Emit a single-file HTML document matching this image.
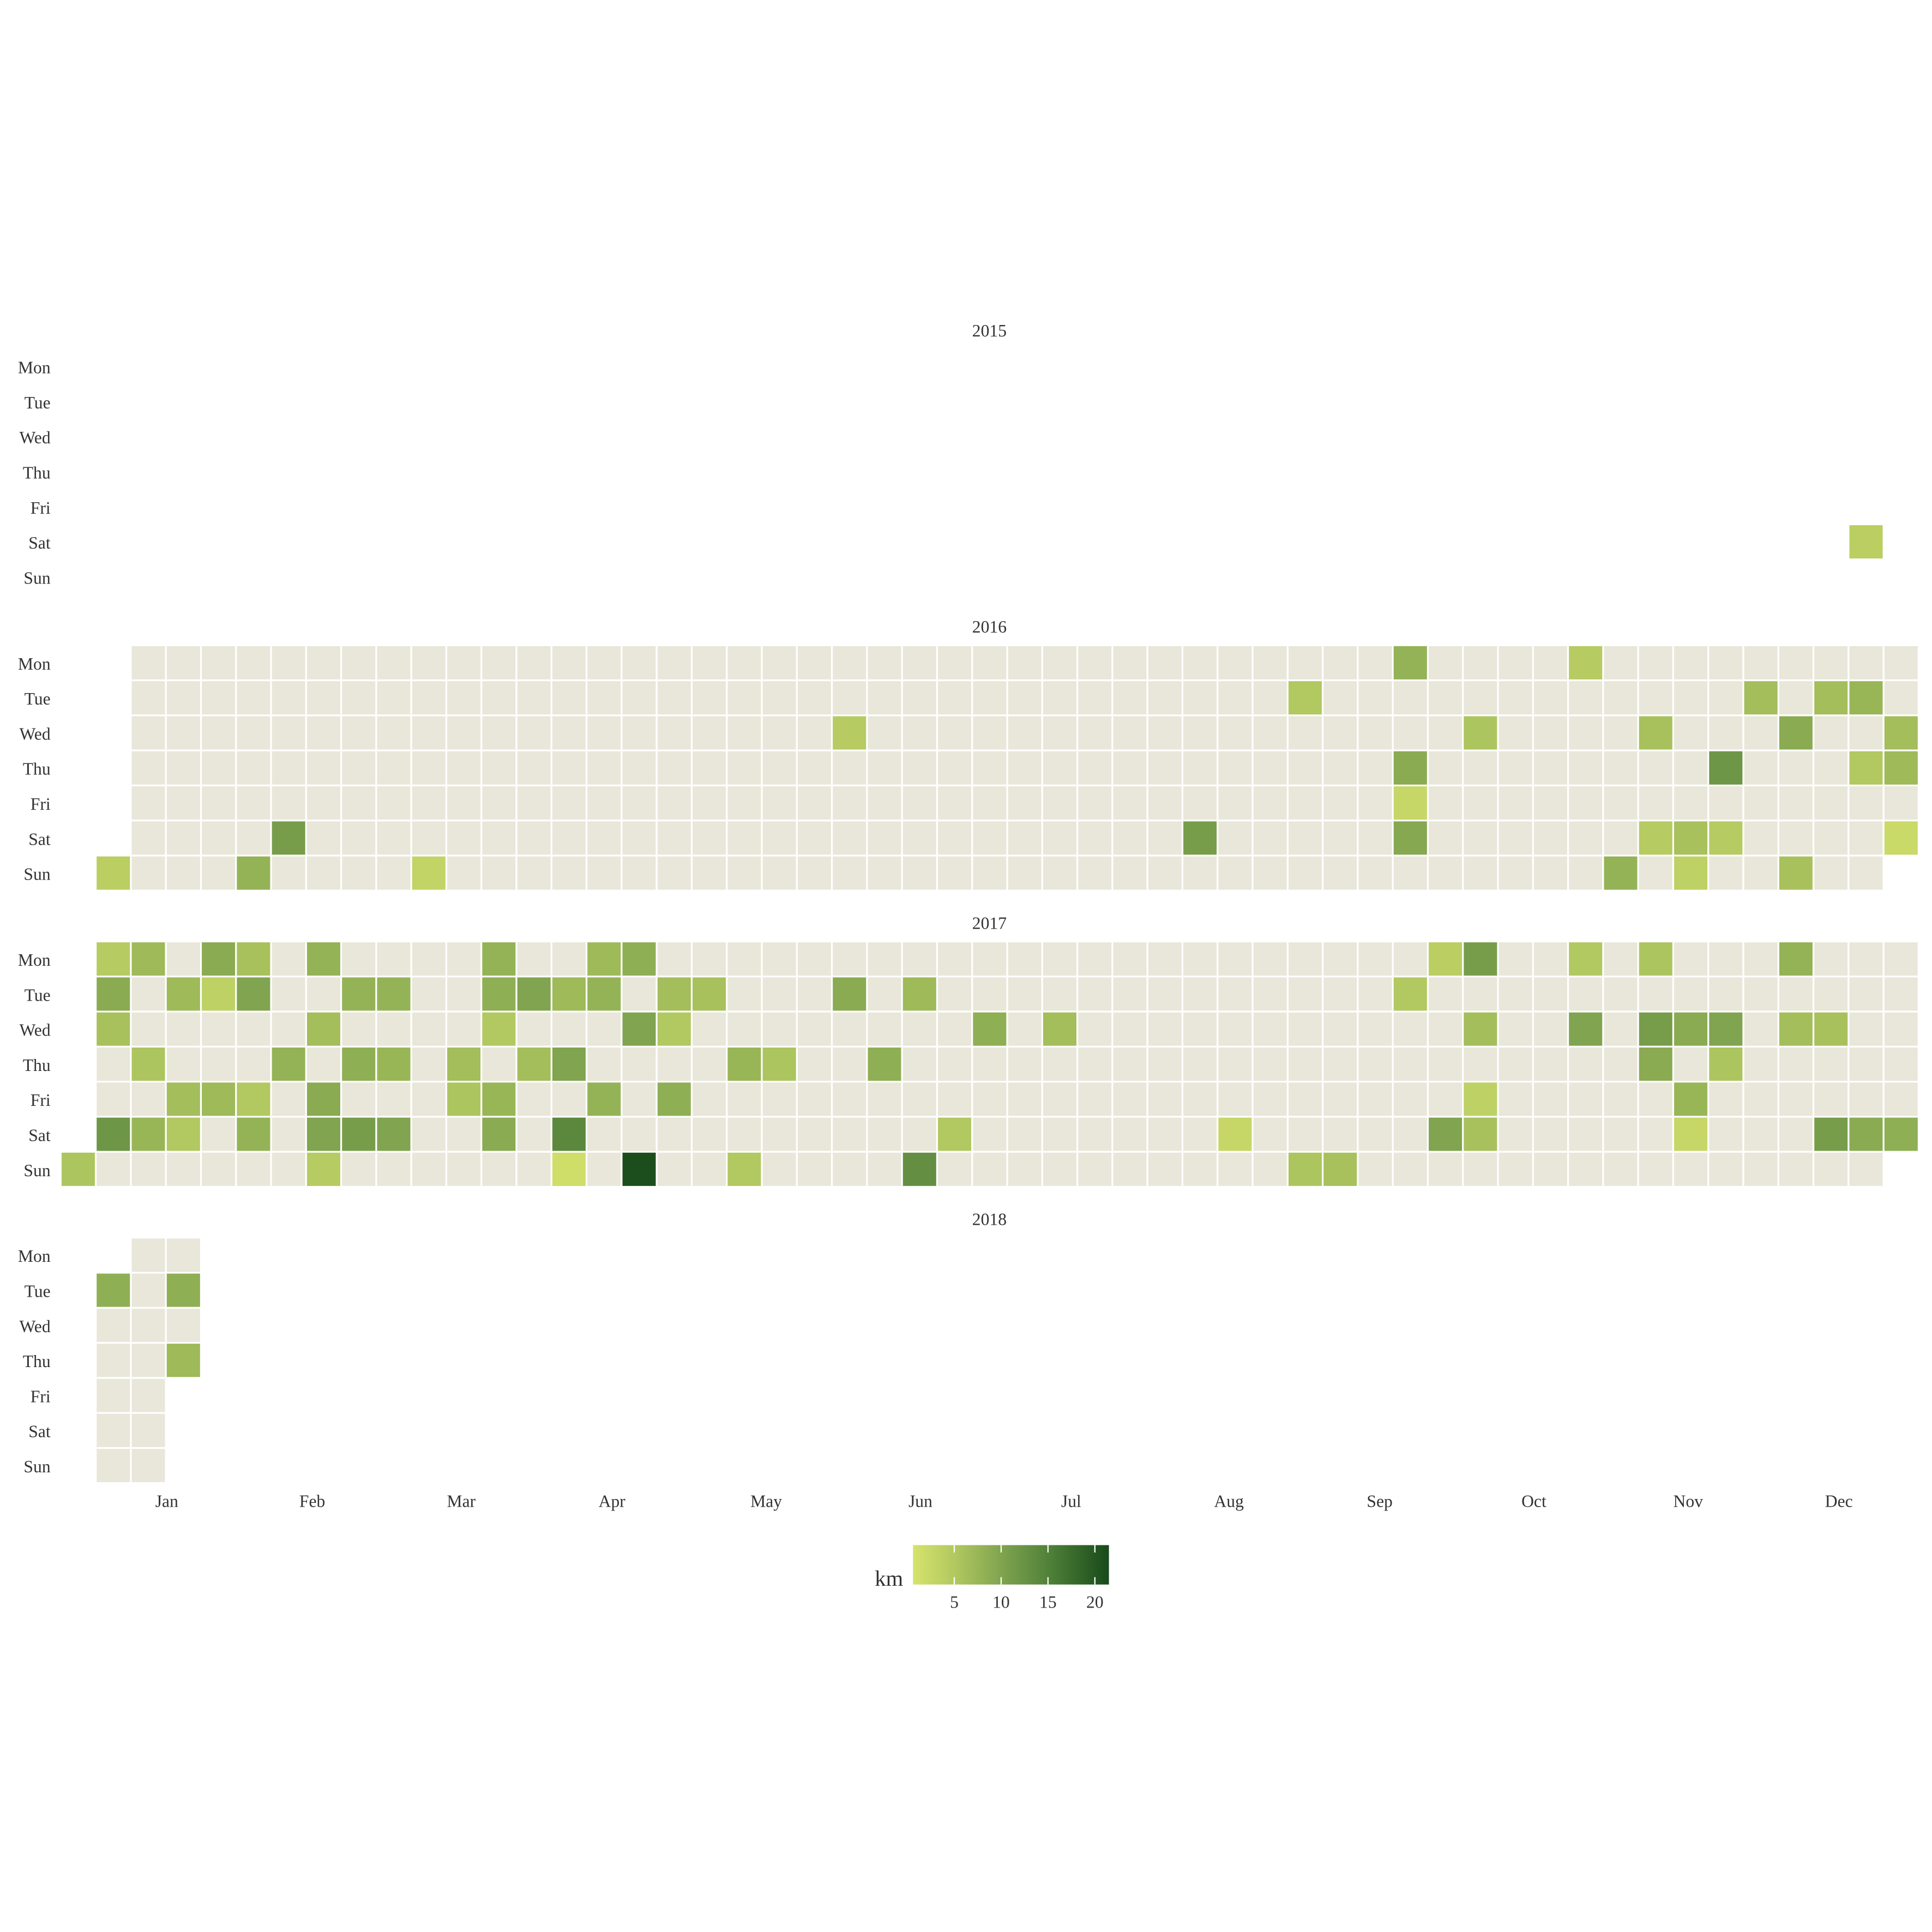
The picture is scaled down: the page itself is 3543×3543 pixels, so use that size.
<!DOCTYPE html>
<html><head><meta charset="utf-8"><style>
html,body{margin:0;padding:0;background:#fff}
svg{display:block}
text{font-family:"Liberation Serif",serif;fill:#333}
</style></head><body>
<svg id="chart" width="3543" height="3543" viewBox="0 0 1568 1568" xmlns="http://www.w3.org/2000/svg">
<defs><linearGradient id="lg" x1="0" x2="1" y1="0" y2="0">
<stop offset="0" stop-color="#d6e36c"/><stop offset="0.22" stop-color="#b0c75f"/><stop offset="0.45" stop-color="#80a44f"/><stop offset="0.7" stop-color="#4f8038"/><stop offset="1" stop-color="#184a1b"/></linearGradient></defs>
<g id="cells"></g><g id="labels"></g>
</svg>
<script>
const years = ["2015","2016","2017","2018"];
const dayNames = ["Mon","Tue","Wed","Thu","Fri","Sat","Sun"];
const monthNames = ["Jan","Feb","Mar","Apr","May","Jun","Jul","Aug","Sep","Oct","Nov","Dec"];
const monthCols = [3.0,7.15,11.4,15.7,20.1,24.5,28.8,33.3,37.6,42.0,46.4,50.7];
const legendTicks = [5,10,15,20];
// [yearIndex, weekCol, dayRow, km]
const runs = [
[0,51,5,4],
[1,38,0,8],[1,43,0,4.5],
[1,35,1,5],[1,48,1,6.5],[1,50,1,6.5],[1,51,1,7.5],
[1,22,2,4.5],[1,40,2,5.5],[1,45,2,6],[1,49,2,9],[1,52,2,6.5],
[1,38,3,9],[1,47,3,12],[1,51,3,5],[1,52,3,7],
[1,38,4,2.5],
[1,6,5,11],[1,32,5,11],[1,38,5,9.5],[1,45,5,4.5],[1,46,5,6],[1,47,5,4.5],[1,52,5,2],
[1,1,6,4],[1,5,6,8],[1,10,6,3],[1,44,6,8],[1,46,6,3.5],[1,49,6,6],
[2,1,0,4.5],[2,2,0,7],[2,4,0,9],[2,5,0,6],[2,7,0,8],[2,12,0,8],[2,15,0,7],[2,16,0,8.5],[2,39,0,4],[2,40,0,11],[2,43,0,5],[2,45,0,5.5],[2,49,0,8],
[2,1,1,9],[2,3,1,7],[2,4,1,3.5],[2,5,1,10],[2,8,1,8],[2,9,1,8],[2,12,1,8.5],[2,13,1,10],[2,14,1,7],[2,15,1,8],[2,17,1,6.5],[2,18,1,6],[2,22,1,9],[2,24,1,7],[2,38,1,5],
[2,1,2,6],[2,7,2,6.5],[2,12,2,5],[2,16,2,10],[2,17,2,5],[2,26,2,8.5],[2,28,2,6.5],[2,40,2,6.5],[2,43,2,10],[2,45,2,11],[2,46,2,9],[2,47,2,10],[2,49,2,6.5],[2,50,2,6],
[2,2,3,5.5],[2,6,3,8],[2,8,3,8.5],[2,9,3,7.5],[2,11,3,6.5],[2,13,3,6.5],[2,14,3,10],[2,19,3,7.5],[2,20,3,5.5],[2,23,3,8.5],[2,45,3,9],[2,47,3,5.5],
[2,3,4,6.5],[2,4,4,7],[2,5,4,5],[2,7,4,9],[2,11,4,5.5],[2,12,4,7.5],[2,15,4,8],[2,17,4,8.5],[2,40,4,3.5],[2,46,4,7.5],
[2,1,5,12],[2,2,5,7.5],[2,3,5,5],[2,5,5,8],[2,7,5,10],[2,8,5,11],[2,9,5,10],[2,12,5,9],[2,14,5,14],[2,25,5,5],[2,33,5,2.5],[2,39,5,10],[2,40,5,6],[2,46,5,2.5],[2,50,5,11],[2,51,5,9],[2,52,5,8.5],
[2,0,6,5.5],[2,7,6,4.5],[2,14,6,1.5],[2,16,6,21],[2,19,6,5],[2,24,6,13],[2,35,6,5.5],[2,36,6,6],
[3,1,1,8.5],[3,3,1,8.5],[3,3,3,7]
];
// per-year, per-row [firstCol,lastCol] of the calendar grid
const spans = [
[null,null,null,null,null,[51,51],null],
[[2,52],[2,52],[2,52],[2,52],[2,52],[2,52],[1,51]],
[[1,52],[1,52],[1,52],[1,52],[1,52],[1,52],[0,51]],
[[2,3],[1,3],[1,3],[1,3],[1,2],[1,2],[1,2]]
];
const X0=50, CW=28.45, RH=28.45, CS=27, P0=284, PS=240.4;
const vmin=0.6, vmax=21.5;
const stops=[[0,[214,227,108]],[0.22,[176,199,95]],[0.45,[128,164,79]],[0.7,[79,128,56]],[1,[24,74,27]]];
function colorScale(v){let t=Math.max(0,Math.min(1,(v-vmin)/(vmax-vmin)));
 for(let i=1;i<stops.length;i++){if(t<=stops[i][0]){const a=stops[i-1],b=stops[i];const f=(t-a[0])/(b[0]-a[0]);
 return 'rgb('+a[1].map((c,k)=>Math.round(c+(b[1][k]-c)*f)).join(',')+')';}}return 'rgb(24,74,27)';}
const xCol=c=>X0+c*CW;
const yRow=(y,r)=>P0+y*PS+r*RH;
const legX=v=>741+(v-vmin)/(vmax-vmin)*159;
const NS='http://www.w3.org/2000/svg';
const gC=document.getElementById('cells'), gL=document.getElementById('labels');
function mk(tag,attrs,parent){const e=document.createElementNS(NS,tag);for(const k in attrs)e.setAttribute(k,attrs[k]);parent.appendChild(e);return e;}
spans.forEach((rows,y)=>rows.forEach((s,r)=>{if(!s)return;for(let c=s[0];c<=s[1];c++){
 const e=mk('rect',{x:xCol(c),y:yRow(y,r),width:CS,height:CS,fill:'#e9e7da'},gC);
 
 }}));
runs.forEach(d=>{const e=mk('rect',{x:xCol(d[1]),y:yRow(d[0],d[2]),width:CS,height:CS,fill:colorScale(d[3])},gC);
 
 });
years.forEach((yr,y)=>{const t=mk('text',{x:803,y:P0+y*PS-11,'text-anchor':'middle','font-size':14},gL);t.textContent=yr;
 
 
 dayNames.forEach((d,r)=>{const e=mk('text',{x:41,y:yRow(y,r)+19,'text-anchor':'end','font-size':14},gL);e.textContent=d;
 
 });});
monthNames.forEach((m,i)=>{const e=mk('text',{x:xCol(monthCols[i]),y:1223,'text-anchor':'middle','font-size':14},gL);e.textContent=m;
 
 });
const lb=mk('rect',{x:741,y:1254,width:159,height:32,fill:'url(#lg)'},gL);


const lt=mk('text',{x:733,y:1287,'text-anchor':'end','font-size':18},gL);lt.textContent='km';


legendTicks.forEach(v=>{mk('line',{x1:legX(v),x2:legX(v),y1:1254,y2:1260,stroke:'#fff','stroke-width':1},gL);
 mk('line',{x1:legX(v),x2:legX(v),y1:1280,y2:1286,stroke:'#fff','stroke-width':1},gL);
 const e=mk('text',{x:legX(v),y:1305,'text-anchor':'middle','font-size':14},gL);e.textContent=v;
 
 });
</script>
</body></html>
